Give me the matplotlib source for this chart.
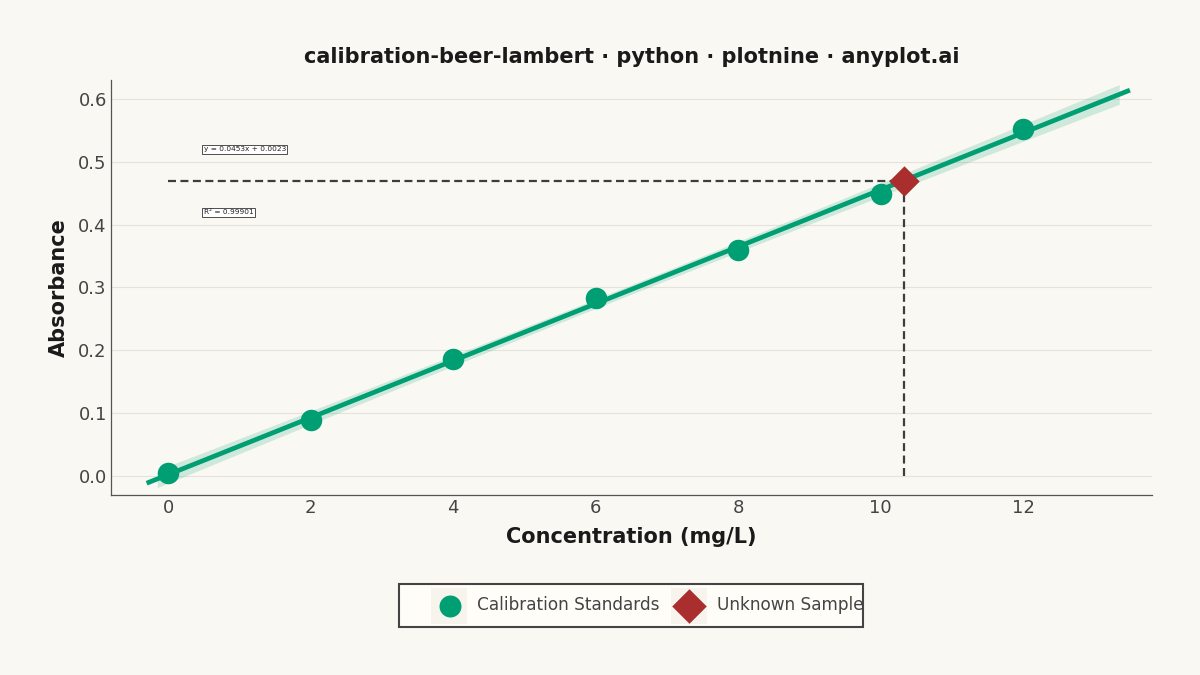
import numpy as np
import matplotlib
matplotlib.use("Agg")
import matplotlib.pyplot as plt
from matplotlib.patches import Rectangle

# ==========================================
# DATA
# ==========================================

concentracion = [0, 2, 4, 6, 8, 10, 12]
absorbancia = [0.005, 0.089, 0.186, 0.283, 0.360, 0.449, 0.552]

pendiente = 0.0453
intercepto = 0.0023
r2_texto = "R² = 0.99901"

muestra_abs = 0.470
muestra_conc = (muestra_abs - intercepto) / pendiente

rango_linea = [-0.3, 13.5]
rango_banda = [-0.15, 13.35]

etiquetas_leyenda = ["Calibration Standards", "Unknown Sample"]

# ==========================================
# STYLE
# ==========================================

fondo = "#FAF8F2"
verde = "#009E73"
rojo = "#AA2E2E"
gris_texto = "#444444"
oscuro = "#1a1a1a"

plt.rcParams["font.family"] = ["DejaVu Sans"]

fig = plt.figure(figsize=(12, 6.75), dpi=100, facecolor=fondo)
ax = fig.add_axes([0.0925, 0.2667, 0.8675, 0.6148])
ax.set_facecolor(fondo)

# ==========================================
# CONFIDENCE BAND (from the points)
# ==========================================

x_arr = np.array(concentracion)
y_arr = np.array(absorbancia)
n = len(x_arr)
resid = y_arr - (pendiente * x_arr + intercepto)
se = np.sqrt(np.sum(resid ** 2) / (n - 2))
xb = np.linspace(rango_banda[0], rango_banda[1], 100)
sxx = np.sum((x_arr - x_arr.mean()) ** 2)
half = 2.57 * se * np.sqrt(1 / n + (xb - x_arr.mean()) ** 2 / sxx)
half = half * 1.2
yb = pendiente * xb + intercepto
ax.fill_between(xb, yb - half, yb + half, color=verde, alpha=0.17,
                linewidth=0, zorder=2)

# fit line
xl = np.array(rango_linea)
ax.plot(xl, pendiente * xl + intercepto, color=verde, linewidth=3.4,
        zorder=3, solid_capstyle="butt")

# reference dashed lines
ax.plot([0, muestra_conc], [muestra_abs, muestra_abs], color="#3d3d3d",
        linestyle=(0, (3.6, 2.0)), linewidth=1.6, zorder=3)
ax.plot([muestra_conc, muestra_conc], [0, muestra_abs], color="#3d3d3d",
        linestyle=(0, (3.6, 2.0)), linewidth=1.6, zorder=3)

# points
ax.scatter(concentracion, absorbancia, s=240, color=verde, zorder=4,
           linewidths=0)
ax.scatter([muestra_conc], [muestra_abs], s=240, marker="D", color=rojo,
           zorder=5, linewidths=0)

# annotations
caja = dict(boxstyle="square,pad=0.2", facecolor="white",
            edgecolor="#333333", linewidth=0.6)
ax.text(0.5, 0.52, f"y = {pendiente}x + {intercepto}", fontsize=5.3,
        ha="left", va="center", color="#222222", bbox=caja, zorder=6)
ax.text(0.5, 0.42, r2_texto, fontsize=5.3, ha="left", va="center",
        color="#222222", bbox=caja, zorder=6)

# ==========================================
# AXES
# ==========================================

ax.set_xlim(-0.8, 13.81)
ax.set_ylim(-0.030, 0.630)
ax.set_xticks([0, 2, 4, 6, 8, 10, 12])
ax.set_yticks([0.0, 0.1, 0.2, 0.3, 0.4, 0.5, 0.6])
ax.set_yticklabels(["0.0", "0.1", "0.2", "0.3", "0.4", "0.5", "0.6"])
ax.tick_params(axis="both", labelsize=13, colors=gris_texto, length=0,
               pad=3)

ax.grid(axis="y", color="#E6E3DC", linewidth=0.8)
ax.grid(axis="x", visible=False)
ax.set_axisbelow(True)

for lado in ["top", "right"]:
    ax.spines[lado].set_visible(False)
for lado in ["left", "bottom"]:
    ax.spines[lado].set_color("#555555")
    ax.spines[lado].set_linewidth(0.9)

ax.set_xlabel("Concentration (mg/L)", fontsize=15, fontweight="bold",
              color=oscuro, labelpad=7)
ax.set_ylabel("Absorbance", fontsize=15, fontweight="bold",
              color=oscuro, labelpad=7)

ax.set_title("calibration-beer-lambert · python · plotnine · anyplot.ai",
             fontsize=15, fontweight="bold", color=oscuro, pad=12)

# ==========================================
# LEGEND (drawn by hand, plotnine style)
# ==========================================

ax_ley = fig.add_axes([399 / 1200, 1 - 627 / 675, 464 / 1200, 43 / 675])
ax_ley.set_xlim(0, 464)
ax_ley.set_ylim(0, 43)
ax_ley.axis("off")
ax_ley.add_patch(Rectangle((0, 0), 464, 43, facecolor="#FFFDF8",
                           edgecolor="#444444", linewidth=1.5,
                           clip_on=False))
for x0 in [32, 272]:
    ax_ley.add_patch(Rectangle((x0, 3.5), 36, 36, facecolor="#F7F4ED",
                               edgecolor="none"))
ax_ley.scatter([51], [21.5], s=250, color=verde, linewidths=0, zorder=3)
ax_ley.scatter([290], [21.5], s=310, marker="D", color=rojo, linewidths=0,
               zorder=3)
ax_ley.text(78, 21.5, etiquetas_leyenda[0], fontsize=12.2, color=gris_texto,
            ha="left", va="center")
ax_ley.text(318, 21.5, etiquetas_leyenda[1], fontsize=12.2, color=gris_texto,
            ha="left", va="center")

fig.savefig("out.png", dpi=100, facecolor=fondo)
